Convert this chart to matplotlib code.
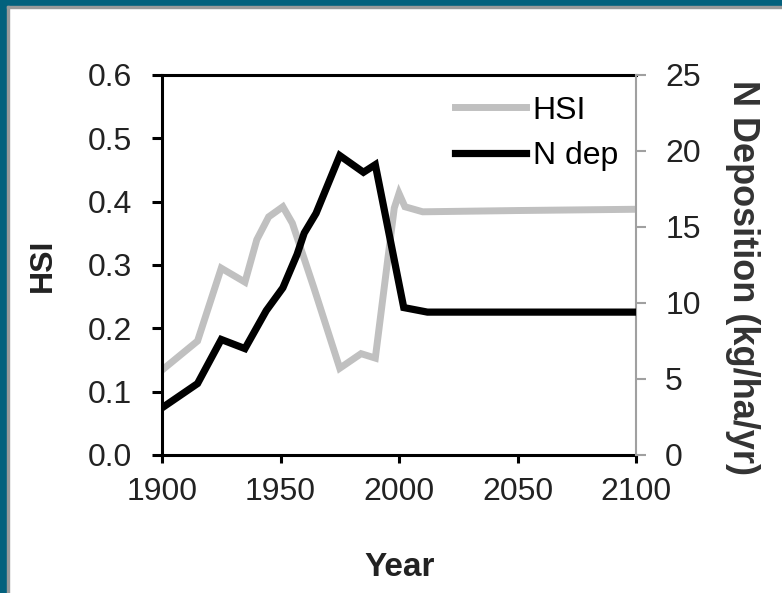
import matplotlib.pyplot as plt
from matplotlib.patches import Rectangle

# Habitat suitability index over time
hsi_years = [1900, 1915, 1925, 1935, 1940, 1945, 1951, 1955, 1964, 1975,
             1984, 1990, 1998, 2000, 2002.5, 2010, 2050, 2100]
hsi = [0.134, 0.18, 0.295, 0.273, 0.34, 0.376, 0.392, 0.366, 0.265, 0.137,
       0.16, 0.153, 0.39, 0.413, 0.392, 0.384, 0.386, 0.388]

# Nitrogen deposition (kg/ha/yr)
ndep_years = [1900, 1915, 1925, 1935, 1944, 1951, 1957, 1960, 1965, 1975,
              1985, 1990, 2002, 2012, 2100]
ndep = [3.1, 4.7, 7.6, 7.0, 9.5, 11.0, 13.2, 14.6, 15.9, 19.7,
        18.6, 19.1, 9.7, 9.4, 9.4]

plt.rcParams['font.family'] = ['Liberation Sans', 'DejaVu Sans']

W, H = 782, 593
fig = plt.figure(figsize=(W / 100, H / 100), dpi=100)

# teal frame on the top and left edges
teal = '#03617d'
fig.patches.append(Rectangle((0, 1 - 6 / H), 1, 6 / H, transform=fig.transFigure,
                             color=teal, zorder=0))
fig.patches.append(Rectangle((0, 0), 7 / W, 1, transform=fig.transFigure,
                             color=teal, zorder=0))
fig.patches.append(Rectangle((7 / W, 0), 2 / W, 1 - 6 / H, transform=fig.transFigure,
                             color='#9a9a9a', zorder=0))
fig.patches.append(Rectangle((7 / W, 1 - 8 / H), 1, 2 / H, transform=fig.transFigure,
                             color='#9a9a9a', zorder=0))

ax = fig.add_axes([162 / W, 1 - 455 / H, 474 / W, 380 / H])
ax2 = ax.twinx()

ax.plot(hsi_years, hsi, color='#c0c0c0', lw=5.0, solid_joinstyle='miter',
        label='HSI', zorder=2)
ax2.plot(ndep_years, ndep, color='black', lw=5.2, solid_joinstyle='miter',
         label='N dep', zorder=3)

ax.set_xlim(1900, 2100)
ax.set_ylim(0, 0.6)
ax2.set_ylim(0, 25)
ax.set_xticks([1900, 1950, 2000, 2050, 2100])
ax.set_yticks([0, 0.1, 0.2, 0.3, 0.4, 0.5, 0.6])
ax.set_yticklabels([f'{v:.1f}' for v in ax.get_yticks()])
ax2.set_yticks([0, 5, 10, 15, 20, 25])

for s in ['left', 'bottom', 'top']:
    ax.spines[s].set_linewidth(2.2)
    ax.spines[s].set_color('black')
ax.spines['right'].set_visible(False)
for s in ['left', 'bottom', 'top']:
    ax2.spines[s].set_visible(False)
ax2.spines['right'].set_color('#a0a0a0')
ax2.spines['right'].set_linewidth(1.5)

ax.tick_params(axis='both', direction='out', width=2.2,
               labelsize=23, labelcolor='#222222')
ax.tick_params(axis='y', length=7.5, pad=14)
ax.tick_params(axis='x', length=6, pad=10)
ax2.tick_params(axis='y', direction='out', length=7, width=1.5, color='#a0a0a0',
                labelsize=23, labelcolor='#222222', pad=14)

ax.set_ylabel('HSI', fontsize=23, fontweight='bold', color='#222222')
ax.yaxis.set_label_coords(-0.219, 0.5)
ax.set_xlabel('Year', fontsize=24, fontweight='bold', color='#222222')
ax.xaxis.set_label_coords(0.502, -0.255)
ax2.set_ylabel('N Deposition (kg/ha/yr)', fontsize=26, fontweight='bold',
               color='#333333', rotation=-90, va='center')
ax2.yaxis.set_label_coords(1.224, 0.468)

h1, l1 = ax.get_legend_handles_labels()
h2, l2 = ax2.get_legend_handles_labels()
ax2.legend(h1 + h2, l1 + l2, loc='upper right', bbox_to_anchor=(0.962, 0.946),
           frameon=False, fontsize=23, handlelength=2.2, handletextpad=0.22,
           labelspacing=0.5, borderaxespad=0, borderpad=0)

fig.savefig('out.png', dpi=100, facecolor='white')
